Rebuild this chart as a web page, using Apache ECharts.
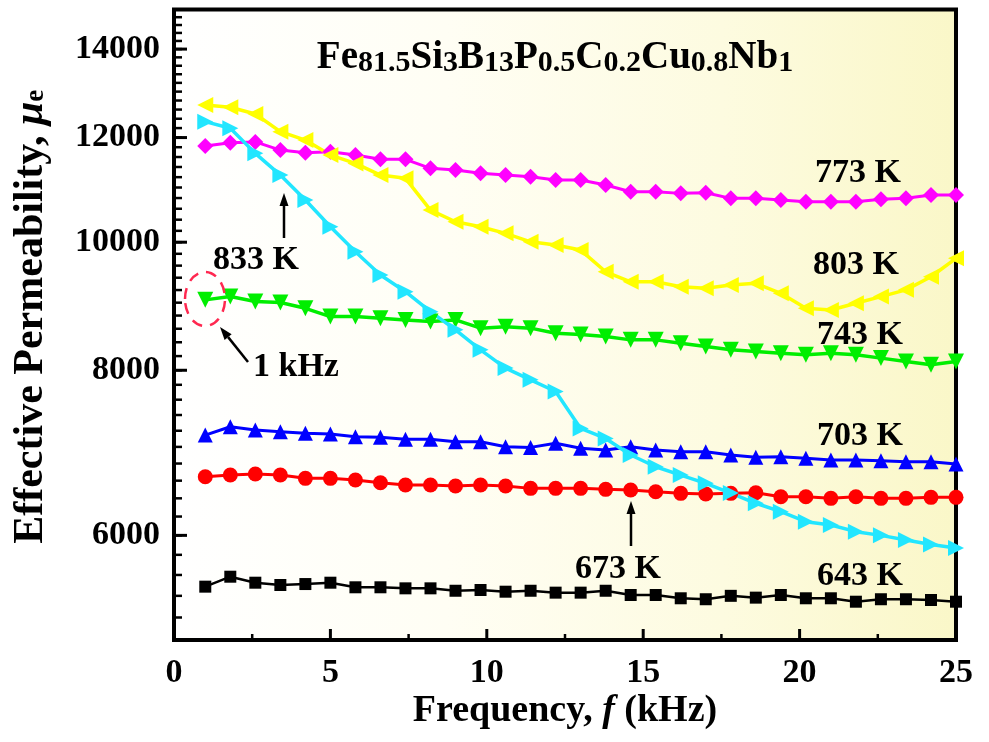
<!DOCTYPE html>
<html>
<head>
<meta charset="utf-8">
<script src="https://cdn.jsdelivr.net/npm/echarts@6/dist/echarts.min.js"></script>
<style>
  html, body { margin: 0; padding: 0; background: #ffffff; }
  #chart { width: 989px; height: 742px; }
</style>
</head>
<body>
<div id="chart"></div>
<script>
// Measurement frequencies (kHz)
const freqKHz = [1, 1.8, 2.6, 3.4, 4.2, 5, 5.8, 6.6, 7.4, 8.2, 9, 9.8, 10.6, 11.4, 12.2, 13,
  13.8, 14.6, 15.4, 16.2, 17, 17.8, 18.6, 19.4, 20.2, 21, 21.8, 22.6, 23.4, 24.2, 25];

// Effective permeability for each annealing temperature
const mu643K = [5487, 5583, 5525, 5503, 5512, 5525, 5481, 5481, 5471, 5471, 5448, 5455, 5439, 5448, 5430, 5430,
  5448, 5408, 5408, 5377, 5368, 5400, 5383, 5408, 5377, 5377, 5345, 5368, 5368, 5361, 5345];
const mu673K = [6645, 6665, 6677, 6665, 6627, 6627, 6607, 6576, 6550, 6550, 6539, 6550, 6539, 6512, 6512, 6512,
  6501, 6493, 6474, 6456, 6448, 6456, 6463, 6418, 6418, 6400, 6418, 6400, 6400, 6411, 6411];
const mu703K = [7146, 7250, 7208, 7187, 7167, 7158, 7125, 7118, 7093, 7093, 7063, 7063, 7002, 6994, 7044, 6983,
  6962, 7002, 6962, 6941, 6941, 6902, 6874, 6881, 6862, 6842, 6842, 6834, 6822, 6822, 6795];
const mu743K = [9044, 9096, 9017, 9003, 8912, 8784, 8784, 8759, 8734, 8708, 8734, 8609, 8630, 8609, 8534, 8513,
  8484, 8435, 8435, 8387, 8337, 8290, 8265, 8242, 8218, 8242, 8218, 8171, 8122, 8076, 8122];
const mu773K = [11823, 11892, 11910, 11741, 11686, 11706, 11640, 11553, 11553, 11373, 11340, 11275, 11241, 11207, 11145, 11145,
  11047, 10919, 10919, 10888, 10900, 10794, 10794, 10762, 10730, 10730, 10730, 10775, 10794, 10857, 10857];
const mu803K = [12701, 12650, 12503, 12124, 11948, 11640, 11472, 11241, 11177, 10576, 10363, 10273, 10155, 10007, 9950, 9864,
  9498, 9334, 9334, 9253, 9228, 9281, 9309, 9148, 8912, 8886, 8990, 9096, 9203, 9416, 9723];
const mu833K = [12337, 12196, 11674, 11241, 10762, 10273, 9835, 9444, 9174, 8860, 8584, 8290, 8030, 7868, 7709, 7229,
  7104, 6902, 6762, 6665, 6569, 6459, 6345, 6253, 6145, 6110, 6039, 6000, 5952, 5905, 5870];

// Axis ticks
const xTickLabels = [0, 5, 10, 15, 20, 25];
const xMinorTicks = [2.5, 7.5, 12.5, 17.5, 22.5];
const yMajorTicks = [6000, 8000, 10000, 12000, 14000];
const yMinorTicks = [];
for (let v = 5000; v <= 15000; v += 200) yMinorTicks.push(v);

const FONT = "'Liberation Serif', 'Times New Roman', serif";

const seriesDefs = [
  { name: '643 K', values: mu643K, color: '#000000', symbol: 'rect', size: 12, rotate: 0, width: 2.5 },
  { name: '673 K', values: mu673K, color: '#ff0000', symbol: 'circle', size: 15, rotate: 0, width: 3 },
  { name: '703 K', values: mu703K, color: '#0000ff', symbol: 'triangle', size: 15, rotate: 0, width: 3 },
  { name: '743 K', values: mu743K, color: '#00ee00', symbol: 'triangle', size: 16, rotate: 180, width: 3.5 },
  { name: '773 K', values: mu773K, color: '#ff00ff', symbol: 'diamond', size: 16, rotate: 0, width: 3 },
  { name: '803 K', values: mu803K, color: '#ffff00', symbol: 'triangle', size: 16, rotate: 90, width: 3.5 },
  { name: '833 K', values: mu833K, color: '#22e6ff', symbol: 'triangle', size: 16, rotate: -90, width: 3.5 }
];

const series = seriesDefs.map(d => ({
  name: d.name,
  type: 'line',
  data: freqKHz.map((f, i) => [f, d.values[i]]),
  symbol: d.symbol,
  symbolSize: d.size,
  symbolRotate: d.rotate,
  showAllSymbol: true,
  smooth: false,
  lineStyle: { color: d.color, width: d.width },
  itemStyle: { color: d.color, borderWidth: 0 },
  emphasis: { disabled: true },
  animation: false
}));

// Arrow made of a shaft and a filled head, pointing from (x1,y1) to (x2,y2)
function arrow(x1, y1, x2, y2) {
  const dx = x2 - x1, dy = y2 - y1;
  const len = Math.sqrt(dx * dx + dy * dy);
  const ux = dx / len, uy = dy / len;
  const headLen = 13, headHalf = 4.5;
  const bx = x2 - ux * headLen, by = y2 - uy * headLen;
  return [
    { type: 'line', z: 50, shape: { x1: x1, y1: y1, x2: bx, y2: by },
      style: { stroke: '#000', lineWidth: 2.5 } },
    { type: 'polygon', z: 50,
      shape: { points: [[x2, y2], [bx - uy * headHalf, by + ux * headHalf], [bx + uy * headHalf, by - ux * headHalf]] },
      style: { fill: '#000' } }
  ];
}

function label(text, x, y) {
  return { type: 'text', z: 50, x: x, y: y,
    style: { text: text, fill: '#000', font: 'bold 34px ' + FONT, align: 'left', verticalAlign: 'middle' } };
}

const annotations = [
  {
    type: 'text', z: 50, x: 555, y: 58,
    style: {
      text: '{m|Fe}{s|81.5}{m|Si}{s|3}{m|B}{s|13}{m|P}{s|0.5}{m|C}{s|0.2}{m|Cu}{s|0.8}{m|Nb}{s|1}',
      align: 'center', verticalAlign: 'middle', fill: '#000',
      rich: {
        m: { fontSize: 39, fontWeight: 'bold', fontFamily: FONT, lineHeight: 40, verticalAlign: 'top', fill: '#000' },
        s: { fontSize: 30, fontWeight: 'bold', fontFamily: FONT, lineHeight: 12, verticalAlign: 'bottom', fill: '#000' }
      }
    }
  },
  label('773 K', 815, 173),
  label('803 K', 813, 265),
  label('743 K', 817, 335),
  label('703 K', 817, 436),
  label('643 K', 817, 576),
  label('673 K', 575, 569),
  label('833 K', 213, 260),
  label('1 kHz', 253, 367),
  ...arrow(284, 238, 284, 193),
  ...arrow(248, 362, 220, 327),
  ...arrow(631, 546, 631, 501),
  {
    type: 'ellipse', z: 50,
    shape: { cx: 205, cy: 299, rx: 20, ry: 27 },
    style: { fill: 'none', stroke: '#ff2850', lineWidth: 2.5, lineDash: [11, 8] }
  }
];

const chart = echarts.init(document.getElementById('chart'), null, { renderer: 'canvas' });

chart.setOption({
  animation: false,
  backgroundColor: '#ffffff',
  grid: {
    left: 174, right: 33, top: 9.5, bottom: 102,
    show: true,
    borderColor: '#000', borderWidth: 4,
    backgroundColor: new echarts.graphic.LinearGradient(0, 0, 1, 0, [
      { offset: 0, color: '#ffffff' },
      { offset: 0.35, color: '#fffef4' },
      { offset: 0.7, color: '#fdfbe0' },
      { offset: 1, color: '#faf7c8' }
    ])
  },
  xAxis: {
    type: 'value', min: 0, max: 25, interval: 5,
    axisLine: { show: false },
    axisTick: { show: false },
    splitLine: { show: false },
    axisLabel: {
      customValues: xTickLabels,
      fontSize: 34, fontWeight: 'bold', fontFamily: FONT, color: '#000', margin: 16
    },
    name: '{a|Frequency, }{i|f}{a| (kHz)}',
    nameLocation: 'middle', nameGap: 51, nameMoveOverlap: false,
    nameTextStyle: {
      rich: {
        a: { fontSize: 38, fontWeight: 'bold', fontFamily: FONT, color: '#000', lineHeight: 40 },
        i: { fontSize: 38, fontWeight: 'bold', fontStyle: 'italic', fontFamily: FONT, color: '#000', lineHeight: 40 }
      }
    }
  },
  yAxis: {
    type: 'log', logBase: 10, min: 5000, max: 15000,
    axisLine: { show: false },
    axisTick: { show: false },
    splitLine: { show: false },
    axisLabel: {
      customValues: yMajorTicks,
      formatter: v => String(v),
      fontSize: 34, fontWeight: 'bold', fontFamily: FONT, color: '#000', margin: 14
    },
    name: '{a|Effective Permeability, }{mu|μ}{e|e}',
    nameLocation: 'middle', nameGap: 124, nameRotate: 90, nameMoveOverlap: false,
    nameTextStyle: {
      padding: [0, 0, 0, 16],
      rich: {
        a: { fontSize: 42, fontWeight: 'bold', fontFamily: FONT, color: '#000', lineHeight: 40, verticalAlign: 'top' },
        mu: { fontSize: 42, fontWeight: 'bold', fontStyle: 'italic', fontFamily: FONT, color: '#000', lineHeight: 40, verticalAlign: 'top' },
        e: { fontSize: 27, fontWeight: 'bold', fontFamily: FONT, color: '#000', lineHeight: 12, verticalAlign: 'bottom' }
      }
    }
  },
  series: series
});

// Inward tick marks, placed through the axes' own scales
const xLeft = chart.convertToPixel({ xAxisIndex: 0 }, 0);
const yBottom = chart.convertToPixel({ yAxisIndex: 0 }, 5000);
const ticks = [];
function tickLine(x1, y1, x2, y2, w) {
  ticks.push({ type: 'line', z: 60, shape: { x1: x1, y1: y1, x2: x2, y2: y2 },
    style: { stroke: '#000', lineWidth: w } });
}
yMinorTicks.forEach(v => {
  const y = chart.convertToPixel({ yAxisIndex: 0 }, v);
  tickLine(xLeft, y, xLeft + 8, y, 2.5);
});
yMajorTicks.forEach(v => {
  const y = chart.convertToPixel({ yAxisIndex: 0 }, v);
  tickLine(xLeft, y, xLeft + 13, y, 3);
});
xTickLabels.forEach(v => {
  const x = chart.convertToPixel({ xAxisIndex: 0 }, v);
  tickLine(x, yBottom, x, yBottom - 11, 3);
});
xMinorTicks.forEach(v => {
  const x = chart.convertToPixel({ xAxisIndex: 0 }, v);
  tickLine(x, yBottom, x, yBottom - 6, 2.5);
});

chart.setOption({ graphic: annotations.concat(ticks) });
</script>
</body>
</html>
